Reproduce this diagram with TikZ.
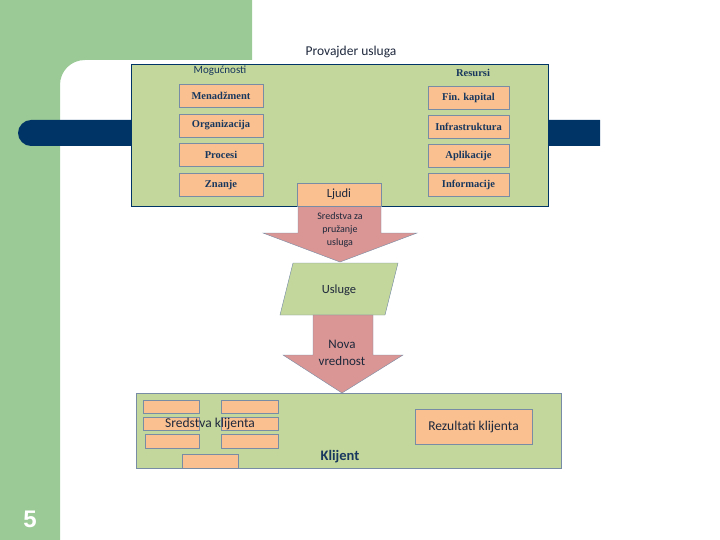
\documentclass[tikz,border=0pt]{standalone}
\usepackage{fontspec}
\setmainfont{Carlito}
\newfontfamily\capfont{Liberation Serif}
\newfontfamily\numfont{Liberation Sans}
\usetikzlibrary{positioning}
\pgfdeclarelayer{background}
\pgfsetlayers{background,main}

\definecolor{bggreen}{RGB}{155,202,150}
\definecolor{panelgreen}{RGB}{195,214,155}
\definecolor{boxorange}{RGB}{250,192,144}
\definecolor{arrowred}{RGB}{217,150,148}
\definecolor{barnavy}{RGB}{0,51,102}
\definecolor{boxline}{RGB}{120,140,165}
\definecolor{textnavy}{RGB}{23,55,94}
\definecolor{textdark}{RGB}{30,40,60}

\begin{document}
\begin{tikzpicture}[x=1pt, y=-1pt, node distance=29.5pt]
        % styles %
        \tikzstyle{panel} = [draw=boxline, fill=panelgreen, inner sep=0pt];
        \tikzstyle{capbox} = [draw=boxline, fill=boxorange, minimum width=84pt, minimum height=23pt, inner sep=0pt, text=textnavy, font=\capfont\bfseries\fontsize{10.5}{12}\selectfont];
        \tikzstyle{resbox} = [capbox, minimum width=81pt];
        \tikzstyle{smallbox} = [draw=boxline, fill=boxorange, minimum width=56pt, minimum height=13pt, inner sep=0pt];
        \tikzstyle{blockarrow} = [draw=boxline, fill=arrowred];
        \tikzstyle{label} = [text=textdark, inner sep=0pt, align=center];

        \useasboundingbox (0,0) rectangle (720,540);

        % background %
        \begin{pgfonlayer}{background}
        \fill[bggreen] (0,0) -- (252,0) -- (252,60) -- (85,60)
              .. controls (71,60) and (60,71) .. (60,85) -- (60,540) -- (0,540) -- cycle;
        \fill[barnavy] (600,120) -- (31,120) .. controls (24,120) and (18,126) .. (18,133)
              .. controls (18,140) and (24,146) .. (31,146) -- (600,146) -- cycle;
        \end{pgfonlayer}
        \node [text=white, font=\numfont\bfseries\fontsize{24}{26}\selectfont] (page) at (30,519) {5};

        % provider %
        \node [panel, draw=barnavy, minimum width=417pt, minimum height=142pt] (provider) at (339.5,135) {};
        \node [label, font=\fontsize{13.5}{15}\selectfont] (provtitle) at (351,52) {Provajder usluga};
        \node [label, text=textnavy, font=\fontsize{11}{13}\selectfont] (abilities) at (220,71) {Mogućnosti};
        \node [label, text=textnavy, font=\capfont\bfseries\fontsize{10.5}{12}\selectfont] (resources) at (473,73) {Resursi};

        \node [capbox] (men) at (221,96) {Menadžment};
        \node [capbox] (org) [below of = men] {Organizacija};
        \node [capbox] (pro) [below of = org] {Procesi};
        \node [capbox] (zna) [below of = pro] {Znanje};

        \node [resbox] (fin) at (468.5,97.5) {Fin. kapital};
        \node [resbox, node distance=29pt] (inf) [below of = fin] {Infrastruktura};
        \node [resbox, node distance=29pt] (apl) [below of = inf] {Aplikacije};
        \node [resbox, node distance=29pt] (ifm) [below of = apl] {Informacije};

        % flow %
        \draw[blockarrow] (298,206) -- (381,206) -- (381,233) -- (417,233) -- (340,262)
              -- (263,233) -- (298,233) -- cycle;
        \node [capbox, text=textdark, font=\fontsize{12.5}{14}\selectfont] (ljudi) at (339,194.5) {Ljudi};
        \node [label, font=\fontsize{10}{13}\selectfont] (means) at (340,230) {Sredstva za\\pružanje\\usluga};

        \draw[panel] (293,263) -- (398,263) -- (385,315) -- (280,315) -- cycle;
        \node [label, font=\fontsize{12.5}{14}\selectfont] (usluge) at (339,290) {Usluge};

        \draw[blockarrow] (313,315) -- (373,315) -- (373,355) -- (403,355) -- (342,393)
              -- (283,355) -- (313,355) -- cycle;
        \node [label, font=\fontsize{13}{17}\selectfont] (value) at (342,353) {Nova\\vrednost};

        % client %
        \node [panel, minimum width=425pt, minimum height=75pt] (client) at (348.5,430.5) {};
        \node [smallbox] (c1) at (171,407) {};
        \node [smallbox, minimum width=57pt] (c2) at (249.5,407) {};
        \node [smallbox] (c3) at (171,423.5) {};
        \node [smallbox, minimum width=57pt] (c4) at (249.5,423.5) {};
        \node [smallbox, minimum width=54pt, minimum height=14pt] (c5) at (172,441) {};
        \node [smallbox, minimum width=57pt, minimum height=14pt] (c6) at (249.5,441) {};
        \node [smallbox, minimum height=14pt] (c7) at (210,461) {};
        \node [label, font=\fontsize{13.5}{15}\selectfont] (assets) at (210,424) {Sredstva klijenta};
        \node [smallbox, minimum width=117pt, minimum height=35pt, text=textdark, font=\fontsize{13.5}{15}\selectfont] (results) at (473.5,426.5) {Rezultati klijenta};
        \node [label, text=textnavy, font=\bfseries\fontsize{14.5}{16}\selectfont] (klijent) at (340,457) {Klijent};
\end{tikzpicture}
\end{document}
